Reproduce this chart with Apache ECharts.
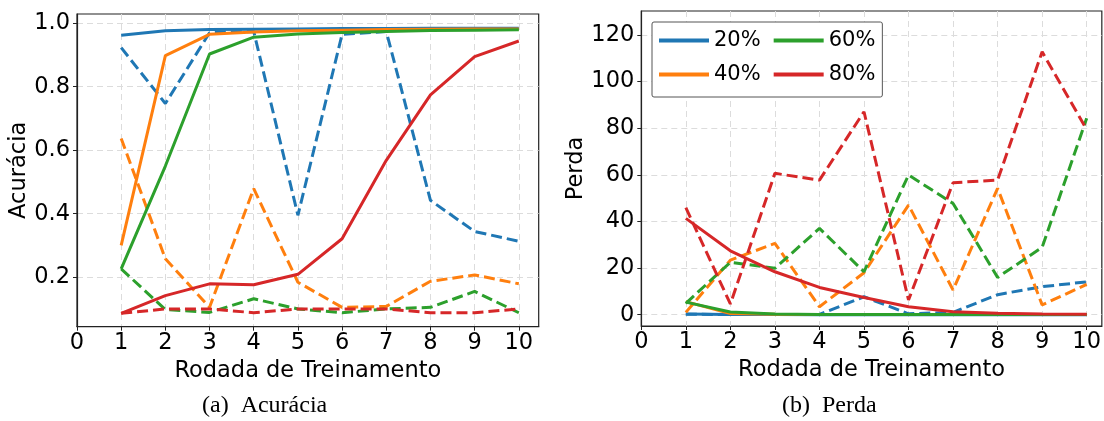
<!DOCTYPE html>
<html>
<head>
<meta charset="utf-8">
<script src="https://cdn.jsdelivr.net/npm/echarts@6/dist/echarts.min.js"></script>
<style>
  html, body { margin: 0; padding: 0; background: #fff; }
  #chart { width: 1104px; height: 421px; }
</style>
</head>
<body>
<div id="chart"></div>
<script>
// 训练轮次
var rounds = [1, 2, 3, 4, 5, 6, 7, 8, 9, 10];
var xTicks = [0, 1, 2, 3, 4, 5, 6, 7, 8, 9, 10];
var accTicks = [0.2, 0.4, 0.6, 0.8, 1.0];
var lossTicks = [0, 20, 40, 60, 80, 100, 120];
var levels = ['20%', '40%', '60%', '80%'];
var colors = ['#1f77b4', '#ff7f0e', '#2ca02c', '#d62728'];

// (a) 准确率：实线 / 虚线
var acc20 = [0.962, 0.976, 0.980, 0.981, 0.982, 0.983, 0.983, 0.984, 0.984, 0.984];
var accDash20 = [0.923, 0.747, 0.970, 0.974, 0.395, 0.965, 0.974, 0.442, 0.344, 0.313];
var acc40 = [0.300, 0.898, 0.965, 0.972, 0.976, 0.978, 0.980, 0.981, 0.982, 0.982];
var accDash40 = [0.637, 0.258, 0.105, 0.479, 0.184, 0.105, 0.108, 0.187, 0.207, 0.179];
var acc60 = [0.226, 0.550, 0.903, 0.956, 0.966, 0.971, 0.974, 0.977, 0.978, 0.979];
var accDash60 = [0.226, 0.098, 0.089, 0.132, 0.100, 0.088, 0.100, 0.105, 0.155, 0.088];
var acc80 = [0.086, 0.142, 0.179, 0.176, 0.209, 0.321, 0.568, 0.774, 0.895, 0.944];
var accDash80 = [0.086, 0.100, 0.100, 0.088, 0.100, 0.100, 0.100, 0.088, 0.088, 0.100];

// (b) 损失：实线 / 虚线
var loss20 = [0.3, 0.1, 0.05, 0.03, 0.02, 0.02, 0.01, 0.01, 0.01, 0.01];
var lossDash20 = [0.2, 0.1, 0.1, 0.1, 7.7, 0.4, 1.0, 8.6, 12.0, 14.1];
var loss40 = [5.6, 0.5, 0.2, 0.1, 0.1, 0.05, 0.05, 0.05, 0.05, 0.05];
var lossDash40 = [1.0, 23.4, 30.6, 3.4, 18.0, 47.0, 10.6, 54.2, 4.2, 13.0];
var loss60 = [5.4, 1.2, 0.3, 0.1, 0.1, 0.05, 0.05, 0.05, 0.05, 0.05];
var lossDash60 = [4.9, 22.5, 19.9, 37.0, 18.4, 59.9, 47.7, 16.0, 28.9, 84.2];
var loss80 = [41.3, 27.4, 18.4, 11.7, 7.4, 3.4, 1.3, 0.6, 0.3, 0.2];
var lossDash80 = [45.9, 4.6, 60.6, 57.7, 87.0, 6.3, 56.6, 57.7, 112.7, 79.4];

var accSolid = [acc20, acc40, acc60, acc80];
var accDash = [accDash20, accDash40, accDash60, accDash80];
var lossSolid = [loss20, loss40, loss60, loss80];
var lossDash = [lossDash20, lossDash40, lossDash60, lossDash80];

var font = 'DejaVu Sans';
var fs = 22.5;

function pairs(vals) {
  return rounds.map(function (r, i) { return [r, vals[i]]; });
}

function line(name, vals, color, dashed, idx) {
  return {
    name: name,
    type: 'line',
    xAxisIndex: idx,
    yAxisIndex: idx,
    data: pairs(vals),
    showSymbol: false,
    symbol: 'none',
    color: color,
    lineStyle: { color: color, width: 3, type: dashed ? [11, 5] : 'solid', cap: 'butt' }
  };
}

function xAxisFor(idx, max) {
  return {
    type: 'value', gridIndex: idx, min: 0, max: max,
    name: 'Rodada de Treinamento', nameLocation: 'middle', nameGap: 29,
    nameTextStyle: { fontSize: fs, color: '#000', fontFamily: font },
    axisLine: { show: true, onZero: false, lineStyle: { color: '#222', width: 1.2 } },
    axisTick: { show: true, length: 4, customValues: xTicks, lineStyle: { color: '#222' } },
    axisLabel: { customValues: xTicks, margin: 5, fontSize: fs, color: '#000', fontFamily: font },
    splitLine: { show: true, lineStyle: { color: '#dcdcdc', type: [6, 4], width: 1 } }
  };
}

function yAxisFor(idx, min, max, ticks, name, gap, fmt) {
  return {
    type: 'value', gridIndex: idx, min: min, max: max,
    name: name, nameLocation: 'middle', nameGap: gap,
    nameTextStyle: { fontSize: fs, color: '#000', fontFamily: font },
    axisLine: { show: true, onZero: false, lineStyle: { color: '#222', width: 1.2 } },
    axisTick: { show: true, length: 4, customValues: ticks, lineStyle: { color: '#222' } },
    axisLabel: { customValues: ticks, margin: 7, fontSize: fs, color: '#000', fontFamily: font, formatter: fmt },
    splitLine: { show: true, lineStyle: { color: '#dcdcdc', type: [6, 4], width: 1 } }
  };
}

var series = [];
levels.forEach(function (lv, i) {
  series.push(line(lv, accSolid[i], colors[i], false, 0));
  series.push(line(lv + ' (val)', accDash[i], colors[i], true, 0));
});
levels.forEach(function (lv, i) {
  series.push(line(lv, lossSolid[i], colors[i], false, 1));
  series.push(line(lv + ' (val)', lossDash[i], colors[i], true, 1));
});

var chart = echarts.init(document.getElementById('chart'));
var option = {
  animation: false,
  backgroundColor: '#fff',
  grid: [
    { left: 77, top: 14, width: 461.7, height: 312.7, show: true, borderColor: '#222', borderWidth: 1.2 },
    { left: 641.3, top: 11, width: 461, height: 315, show: true, borderColor: '#222', borderWidth: 1.2 }
  ],
  xAxis: [xAxisFor(0, 10.45), xAxisFor(1, 10.34)],
  yAxis: [
    yAxisFor(0, 0.044, 1.029, accTicks, 'Acurácia', 36, function (v) { return v.toFixed(1); }),
    yAxisFor(1, -4.84, 130.2, lossTicks, 'Perda', 48, function (v) { return String(v); })
  ],
  legend: {
    data: ['20%', '60%', '40%', '80%'],
    left: 652, top: 22,
    width: 220,
    orient: 'horizontal',
    icon: 'rect',
    itemWidth: 50, itemHeight: 4,
    itemGap: 13,
    padding: [8, 7, 12, 7],
    borderColor: '#555', borderWidth: 1, borderRadius: 2,
    backgroundColor: '#fff',
    textStyle: { fontSize: 21, color: '#000', fontFamily: font, width: 47 }
  },
  graphic: [
    { type: 'text', left: 202, top: 394, style: { text: '(a)  Acurácia', fontSize: 24, fontFamily: 'Liberation Serif', fill: '#000' } },
    { type: 'text', left: 782, top: 394, style: { text: '(b)  Perda', fontSize: 24, fontFamily: 'Liberation Serif', fill: '#000' } }
  ],
  series: series
};
chart.setOption(option);
</script>
</body>
</html>
